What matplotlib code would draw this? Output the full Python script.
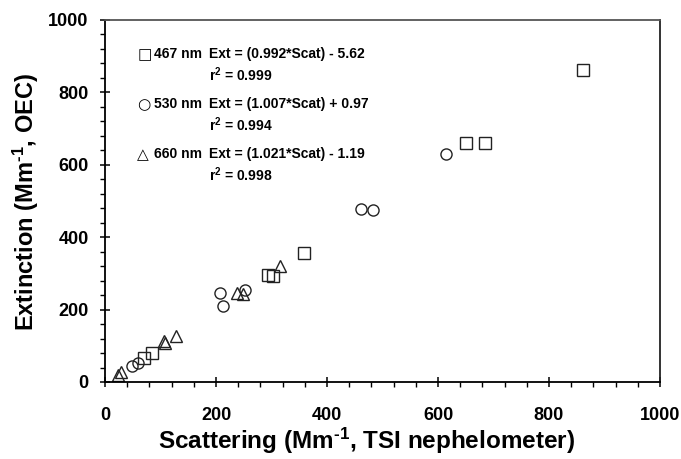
import numpy as np
import matplotlib.pyplot as plt
from matplotlib.ticker import MultipleLocator

# 467 nm (squares)
scat_467 = [861, 650, 685, 359, 294, 303, 84, 71]
ext_467 = [862, 660, 660, 355, 296, 292, 81, 65]

# 530 nm (circles)
scat_530 = [614, 462, 483, 208, 213, 252, 59, 49]
ext_530 = [630, 478, 475, 247, 210, 254, 53, 45]

# 660 nm (triangles)
scat_660 = [315, 237, 248, 128, 107, 108, 24, 29]
ext_660 = [321, 245, 243, 127, 113, 107, 19, 28]

wavelengths = ["467 nm", "530 nm", "660 nm"]
fits = ["Ext = (0.992*Scat) - 5.62", "Ext = (1.007*Scat) + 0.97", "Ext = (1.021*Scat) - 1.19"]
r2 = ["0.999", "0.994", "0.998"]
symbols = ["\u25a1", "\u25cb", "\u25b3"]

plt.rcParams['font.family'] = ['Liberation Sans', 'DejaVu Sans']
plt.rcParams['mathtext.fontset'] = 'custom'
plt.rcParams['mathtext.rm'] = 'Liberation Sans:bold'
plt.rcParams['mathtext.bf'] = 'Liberation Sans:bold'
plt.rcParams['mathtext.default'] = 'bf'

fig = plt.figure(figsize=(6.81, 4.59), dpi=100)
ax = fig.add_axes([105 / 681, 1 - 382 / 459, 555 / 681, 362 / 459])

mk = dict(linestyle='none', markerfacecolor='none', markeredgecolor='#222222',
          markeredgewidth=1.0, markersize=8, clip_on=False)
ax.plot(scat_467, ext_467, marker='s', **mk)
ax.plot(scat_530, ext_530, marker='o', **mk)
ax.plot(scat_660, ext_660, marker='^', **mk)

ax.set_xlim(0, 1000)
ax.set_ylim(0, 1000)
ax.xaxis.set_major_locator(MultipleLocator(200))
ax.yaxis.set_major_locator(MultipleLocator(200))
ax.xaxis.set_minor_locator(MultipleLocator(40))
ax.yaxis.set_minor_locator(MultipleLocator(40))
ax.tick_params(which='major', direction='inout', length=7.5, width=1.1, labelsize=13)
ax.tick_params(which='minor', direction='out', length=3.6, width=1.0)
ax.tick_params(axis='x', which='major', pad=14)
ax.tick_params(axis='y', which='major', pad=8)
for lab in ax.get_xticklabels() + ax.get_yticklabels():
    lab.set_fontweight('bold')
for s in ax.spines.values():
    s.set_linewidth(1.3)
ax.spines['top'].set_color('#555555')
ax.spines['right'].set_color('#222222')

ax.set_xlabel("Scattering (Mm$^{\\text{-1}}$, TSI nephelometer)", fontsize=17.5, fontweight='bold')
ax.set_ylabel("Extinction (Mm$^{\\text{-1}}$, OEC)", fontsize=17, fontweight='bold')
ax.xaxis.set_label_coords((366 - 105) / 555, -0.12)
ax.yaxis.set_label_coords(-0.115, (382 - 202) / 362)

y0 = 0.905
for i in range(3):
    y = y0 - i * 0.138
    ax.text(0.058, y, symbols[i], transform=ax.transAxes, fontsize=11,
            family='DejaVu Sans', va='center', ha='left')
    ax.text(0.088, y, wavelengths[i], transform=ax.transAxes, fontsize=10,
            fontweight='bold', va='center', ha='left')
    ax.text(0.188, y, fits[i], transform=ax.transAxes, fontsize=10,
            fontweight='bold', va='center', ha='left')
    ax.text(0.188, y - 0.055, "r$^{2}$ = " + r2[i], transform=ax.transAxes, fontsize=10,
            fontweight='bold', va='center', ha='left')

fig.savefig("out.png", dpi=100)
